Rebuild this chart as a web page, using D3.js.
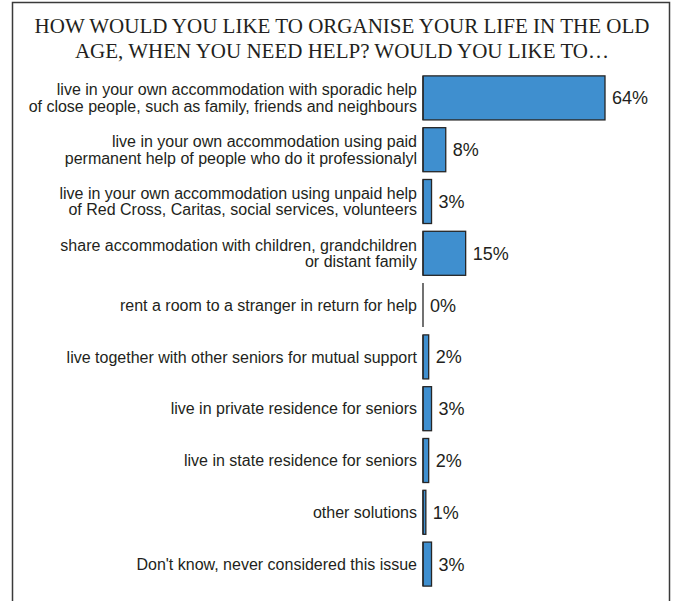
<!DOCTYPE html>
<html>
<head>
<meta charset="utf-8">
<script src="https://cdn.jsdelivr.net/npm/d3@7/dist/d3.min.js"></script>
<style>
  html, body { margin: 0; padding: 0; background: #fff; }
  svg { display: block; }
</style>
</head>
<body>
<svg id="chart" width="675" height="601"></svg>
<script>
// Survey answers, one label (possibly two lines) per option
const categories = [
  ["live in your own accommodation with sporadic help", "of close people, such as family, friends and neighbours"],
  ["live in your own accommodation using paid", "permanent help of people who do it professionalyl"],
  ["live in your own accommodation using unpaid help", "of Red Cross, Caritas, social services, volunteers"],
  ["share accommodation with children, grandchildren", "or distant family"],
  ["rent a room to a stranger in return for help"],
  ["live together with other seniors for mutual support"],
  ["live in private residence for seniors"],
  ["live in state residence for seniors"],
  ["other solutions"],
  ["Don't know, never considered this issue"]
];
// Share of respondents (%)
const values = [64, 8, 3, 15, 0, 2, 3, 2, 1, 3];
const titleLines = [
  "HOW WOULD YOU LIKE TO ORGANISE YOUR LIFE IN THE OLD",
  "AGE, WHEN YOU NEED HELP? WOULD YOU LIKE TO…"
];

const svg = d3.select("#chart");
const textColor = "#231f20";

// Outer frame (open at the bottom edge of the page)
svg.append("rect")
  .attr("x", 12.5).attr("y", 2.5)
  .attr("width", 657).attr("height", 640)
  .attr("fill", "none")
  .attr("stroke", "#3a3a3a")
  .attr("stroke-width", 1.5);

// Title
svg.append("g").selectAll("text")
  .data(titleLines)
  .join("text")
  .attr("x", 342)
  .attr("y", (d, i) => 33.3 + i * 24.4)
  .attr("text-anchor", "middle")
  .attr("font-family", "'Liberation Serif', 'Times New Roman', serif")
  .attr("font-size", 21)
  .attr("fill", textColor)
  .text(d => d);

const idx = d3.range(categories.length);

const x = d3.scaleLinear().domain([0, 64]).range([423, 605]);
const y = d3.scaleBand()
  .domain(idx)
  .range([72, 590])
  .paddingInner(0.15)
  .paddingOuter(0.075);

// Bars
svg.append("g").selectAll("rect")
  .data(idx)
  .join("rect")
  .attr("x", x(0))
  .attr("y", i => y(i))
  .attr("width", i => x(values[i]) - x(0))
  .attr("height", y.bandwidth())
  .attr("fill", "#3f8fcf")
  .attr("stroke", "#262626")
  .attr("stroke-width", 1.3);

// Left edge of each bar, so a zero value still shows as a thin line
svg.append("g").selectAll("line")
  .data(idx)
  .join("line")
  .attr("x1", x(0)).attr("x2", x(0))
  .attr("y1", i => y(i))
  .attr("y2", i => y(i) + y.bandwidth())
  .attr("stroke", "#262626")
  .attr("stroke-width", 1.3);

// Category labels, right-aligned next to the bars
const lineH = 16.7;
const labels = svg.append("g")
  .attr("font-family", "'Liberation Sans', Arial, sans-serif")
  .attr("font-size", 16)
  .attr("fill", textColor)
  .attr("text-anchor", "end");

idx.forEach(i => {
  const lines = categories[i];
  const cy = y(i) + y.bandwidth() / 2;
  const n = lines.length;
  labels.append("text")
    .selectAll("tspan")
    .data(lines)
    .join("tspan")
    .attr("x", 417)
    .attr("y", (d, j) => cy + (j - (n - 1) / 2) * lineH + 5.6)
    .text(d => d);
});

// Value labels
svg.append("g")
  .attr("font-family", "'Liberation Sans', Arial, sans-serif")
  .attr("font-size", 18)
  .attr("fill", textColor)
  .selectAll("text")
  .data(idx)
  .join("text")
  .attr("x", i => x(values[i]) + 7)
  .attr("y", i => y(i) + y.bandwidth() / 2 + 6.4)
  .text(i => values[i] + "%");
</script>
</body>
</html>
